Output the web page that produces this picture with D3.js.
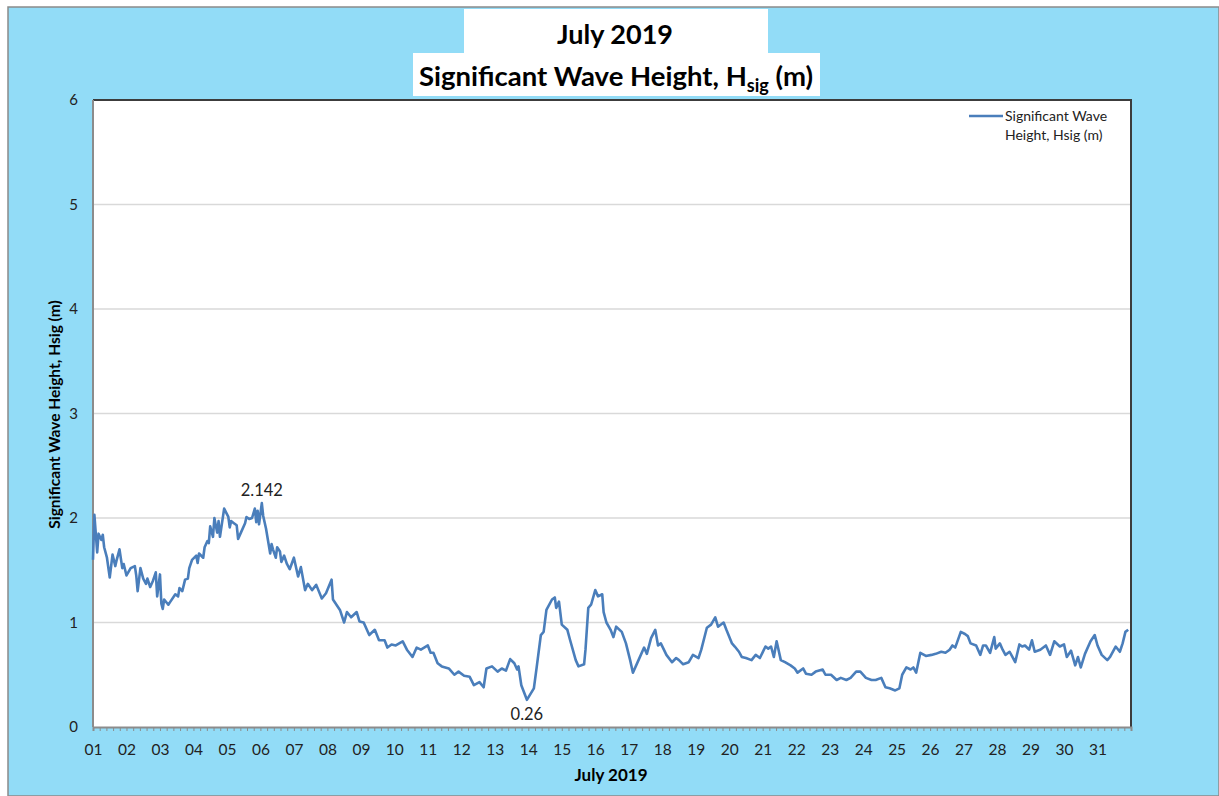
<!DOCTYPE html>
<html>
<head>
<meta charset="utf-8">
<script src="https://cdn.jsdelivr.net/npm/d3@7"></script>
<style>
  body { margin: 0; background: #fff; }
  svg { display: block; font-family: Lato, "Noto Sans", sans-serif; }
</style>
</head>
<body>
<div id="chart"></div>
<script>
// hours since 2019-07-01 00:00 and Hsig (m)
var obsHour = [0,1,3,4,6,7,8,10,12,14,16,17,19,21,22,24,27,30,31,32,34,36,38,39,41,43,45,46,48,49,50,51,54,55,59,61,62,64,66,68,69,71,74,75,76,79,80,82,83,84,85,86,87,89,90,91,94,97,98,99,101,103,104,106,109,110,112,114,116,117,118,119,121,122,124,127,128,129,131,132,134,135,137,139,141,144,147,149,152,154,157,160,164,167,171,172,177,180,182,185,189,191,194,198,202,205,209,211,214,217,222,225,229,232,235,240,242,244,247,250,255,259,262,266,270,273,277,280,282,286,290,293,296,299,302,304,305,307,311,316,318,321,323,325,329,331,332,334,336,340,342,346,348,352,353,355,357,360,362,365,366,368,371,373,375,379,382,385,387,391,395,397,400,403,405,407,411,415,418,420,423,427,430,434,436,440,443,446,448,452,454,458,460,463,465,468,472,475,478,482,484,486,488,490,493,496,500,503,505,509,511,515,518,523,525,529,533,536,540,543,547,550,554,558,561,565,568,571,575,578,580,583,586,588,590,593,597,601,604,608,611,614,616,618,622,625,627,629,633,636,638,640,643,646,647,650,652,654,657,659,661,664,666,668,671,673,675,679,683,686,689,693,696,698,701,704,706,708,711,715,718,720,723,727,729,733,736,738,740,742];
var hsig = [1.60,2.03,1.67,1.85,1.79,1.84,1.72,1.62,1.43,1.65,1.54,1.60,1.70,1.52,1.56,1.45,1.52,1.54,1.45,1.30,1.52,1.42,1.37,1.42,1.34,1.40,1.48,1.25,1.46,1.18,1.13,1.22,1.17,1.19,1.27,1.25,1.33,1.30,1.41,1.42,1.52,1.60,1.64,1.57,1.66,1.62,1.72,1.78,1.76,1.92,1.87,1.82,2.00,1.86,1.97,1.82,2.09,2.01,1.91,1.97,1.95,1.93,1.80,1.86,1.95,2.01,1.99,2.00,2.09,1.96,2.07,1.94,2.142,2.02,1.90,1.66,1.75,1.70,1.62,1.72,1.68,1.58,1.64,1.56,1.51,1.62,1.44,1.53,1.31,1.37,1.31,1.36,1.23,1.28,1.41,1.22,1.12,1.00,1.10,1.05,1.10,1.01,1.00,0.88,0.93,0.83,0.83,0.76,0.79,0.78,0.82,0.74,0.67,0.76,0.74,0.78,0.71,0.71,0.61,0.58,0.56,0.50,0.53,0.49,0.48,0.40,0.43,0.38,0.56,0.58,0.53,0.56,0.54,0.65,0.61,0.55,0.58,0.40,0.26,0.37,0.57,0.88,0.91,1.12,1.22,1.24,1.14,1.20,0.98,0.93,0.83,0.64,0.58,0.60,0.74,1.14,1.17,1.31,1.25,1.27,1.10,1.00,0.93,0.86,0.96,0.91,0.80,0.64,0.52,0.64,0.76,0.70,0.85,0.93,0.78,0.80,0.69,0.62,0.66,0.64,0.60,0.62,0.69,0.66,0.74,0.95,0.98,1.05,0.96,1.00,0.93,0.80,0.77,0.72,0.67,0.66,0.64,0.69,0.66,0.77,0.75,0.77,0.67,0.82,0.64,0.62,0.59,0.56,0.52,0.56,0.51,0.50,0.53,0.55,0.50,0.50,0.45,0.47,0.45,0.47,0.53,0.53,0.47,0.45,0.45,0.47,0.38,0.37,0.35,0.37,0.50,0.57,0.55,0.57,0.52,0.71,0.68,0.69,0.70,0.72,0.71,0.74,0.78,0.76,0.91,0.89,0.87,0.80,0.78,0.69,0.78,0.78,0.71,0.86,0.75,0.80,0.74,0.69,0.72,0.67,0.62,0.79,0.77,0.78,0.74,0.83,0.72,0.74,0.78,0.69,0.82,0.77,0.79,0.67,0.73,0.59,0.67,0.57,0.70,0.82,0.88,0.78,0.69,0.64,0.67,0.77,0.72,0.80,0.91,0.93];

var dayLabels = d3.range(1, 32).map(d3.format("02d"));
var yTicks = [0, 1, 2, 3, 4, 5, 6];
var notes = [{hour: 121, value: 2.142, text: "2.142", above: true},
             {hour: 311, value: 0.26, text: "0.26", above: false}];

var W = 1219, H = 796;
var plot = {left: 93, right: 1131, top: 100, bottom: 727};
var blue = "#92dcf7", lineColor = "#4a7ebb";

var svg = d3.select("#chart").append("svg")
  .attr("width", W).attr("height", H);

// outer chart frame
svg.append("rect").attr("x", 8).attr("y", 7).attr("width", W - 8).attr("height", H - 7)
  .attr("fill", blue).attr("stroke", "#8a8a8a").attr("stroke-width", 1.5);

// plot area
svg.append("rect").attr("x", plot.left).attr("y", plot.top)
  .attr("width", plot.right - plot.left).attr("height", plot.bottom - plot.top)
  .attr("fill", "#fff");

var x = d3.scaleLinear().domain([0, 744]).range([plot.left, plot.right]);
var y = d3.scaleLinear().domain([0, 6]).range([plot.bottom, plot.top]);

// gridlines
svg.append("g").selectAll("line").data(yTicks.slice(1, -1)).join("line")
  .attr("x1", plot.left).attr("x2", plot.right)
  .attr("y1", function(d) { return y(d); }).attr("y2", function(d) { return y(d); })
  .attr("stroke", "#d9d9d9").attr("stroke-width", 1.5);

// plot border: dark top/right, grey left
svg.append("path")
  .attr("d", "M" + plot.left + "," + plot.top + "H" + plot.right + "V" + plot.bottom)
  .attr("fill", "none").attr("stroke", "#3c3c3c").attr("stroke-width", 2);
svg.append("line").attr("x1", plot.left).attr("x2", plot.left)
  .attr("y1", plot.top).attr("y2", plot.bottom)
  .attr("stroke", "#8c8c8c").attr("stroke-width", 2);

// y axis labels
var yAxis = svg.append("g").attr("transform", "translate(" + plot.left + ",0)")
  .call(d3.axisLeft(y).tickValues(yTicks).tickSize(0).tickPadding(15).tickFormat(d3.format("d")));
yAxis.select(".domain").remove();
yAxis.selectAll("text").attr("font-size", 15).attr("fill", "#222").attr("font-family", "Lato, sans-serif");

// x axis: minor ticks every 1/5 day
var minor = d3.range(0, 744.01, 4.8);
var xAxis = svg.append("g").attr("transform", "translate(0," + plot.bottom + ")")
  .call(d3.axisBottom(x).tickValues(minor).tickSize(4).tickFormat(""));
xAxis.select(".domain").attr("stroke", "#8c8c8c").attr("stroke-width", 2);
xAxis.selectAll(".tick line").attr("stroke", "#8c8c8c");

var xLab = svg.append("g").attr("transform", "translate(0," + plot.bottom + ")")
  .call(d3.axisBottom(x).tickValues(d3.range(0, 31).map(function(i) { return i * 24; }))
    .tickSize(0).tickPadding(17).tickFormat(function(d, i) { return dayLabels[i]; }));
xLab.select(".domain").remove();
xLab.selectAll("text").attr("font-size", 15.5).attr("fill", "#222").attr("font-family", "Lato, sans-serif");

// series
var series = obsHour.map(function(h, i) { return [h, hsig[i]]; });
var line = d3.line().x(function(d) { return x(d[0]); }).y(function(d) { return y(d[1]); });
svg.append("path").datum(series).attr("d", line)
  .attr("fill", "none").attr("stroke", lineColor).attr("stroke-width", 2.6)
  .attr("stroke-linejoin", "round");

// data labels
svg.append("g").selectAll("text").data(notes).join("text")
  .attr("x", function(d) { return x(d.hour); })
  .attr("y", function(d) { return d.above ? y(d.value) - 7 : y(d.value) + 20; })
  .attr("text-anchor", "middle").attr("font-size", 16.5).attr("fill", "#222")
  .text(function(d) { return d.text; });

// axis titles
svg.append("text").attr("x", 611).attr("y", 781)
  .attr("text-anchor", "middle").attr("font-size", 17).attr("font-weight", "bold")
  .text("July 2019");
svg.append("text")
  .attr("transform", "translate(60," + ((plot.top + plot.bottom) / 2 + 1) + ") rotate(-90)")
  .attr("text-anchor", "middle").attr("font-size", 15.5).attr("font-weight", "bold")
  .text("Significant Wave Height, Hsig (m)");

// title with white boxes
svg.append("rect").attr("x", 464).attr("y", 9).attr("width", 304).attr("height", 45).attr("fill", "#fff");
svg.append("rect").attr("x", 413).attr("y", 53).attr("width", 407).attr("height", 43).attr("fill", "#fff");
svg.append("text").attr("x", 615).attr("y", 44).attr("text-anchor", "middle")
  .attr("font-size", 27).attr("font-weight", "bold").text("July 2019");
var t2 = svg.append("text").attr("x", 616).attr("y", 86).attr("text-anchor", "middle")
  .attr("font-size", 27.5).attr("font-weight", "bold");
t2.append("tspan").text("Significant Wave Height, H");
t2.append("tspan").attr("font-size", 18).attr("dy", 6).text("sig");
t2.append("tspan").attr("dy", -6).text(" (m)");

// legend
var lg = svg.append("g").attr("transform", "translate(969,116)");
lg.append("line").attr("x1", 0).attr("x2", 34).attr("stroke", lineColor).attr("stroke-width", 2.5);
lg.append("text").attr("x", 36).attr("y", 5).attr("font-size", 14).attr("fill", "#222").text("Significant Wave");
lg.append("text").attr("x", 36).attr("y", 24).attr("font-size", 14).attr("fill", "#222").text("Height, Hsig (m)");
</script>
</body>
</html>
